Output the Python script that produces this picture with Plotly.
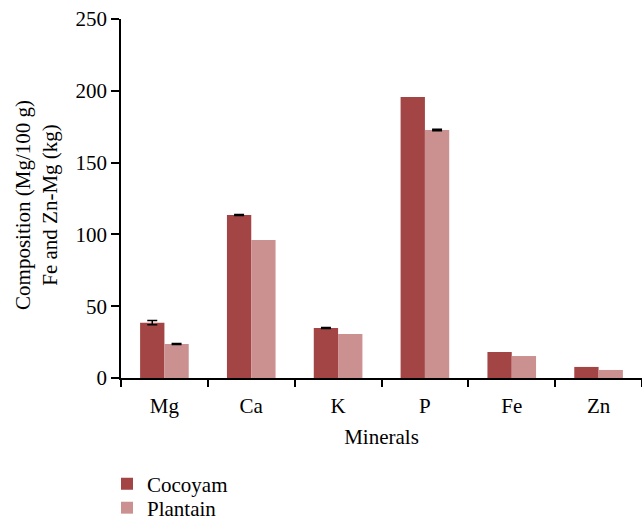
import plotly.graph_objects as go

minerals = ["Mg", "Ca", "K", "P", "Fe", "Zn"]
cocoyam = [38.5, 113.5, 34.8, 195.7, 18.1, 7.7]
cocoyam_err = [1.5, 0.4, 0.4, None, None, None]
plantain = [23.7, 96.1, 30.6, 172.7, 15.3, 5.6]
plantain_err = [0.3, None, None, 0.5, None, None]
y_title = "Composition (Mg/100 g)<br>Fe and Zn-Mg (kg)"
x_title = "Minerals"

font_family = "Liberation Serif"
W, H = 642, 519


def err_array(errs):
    # points without an error bar: "NaN" makes plotly.js skip the bar entirely
    return [e if e is not None else "NaN" for e in errs]


fig = go.Figure()
fig.add_trace(go.Bar(
    name="Cocoyam", x=minerals, y=cocoyam, marker_color="#A34545",
    marker_line_width=0, legend="legend",
    error_y=dict(type="data", array=err_array(cocoyam_err), visible=True, color="black",
                 thickness=1.5, width=5),
))
fig.add_trace(go.Bar(
    name="Plantain", x=minerals, y=plantain, marker_color="#CB9090",
    marker_line_width=0, legend="legend2",
    error_y=dict(type="data", array=err_array(plantain_err), visible=True, color="black",
                 thickness=1.5, width=5),
))

leg_common = dict(xref="container", yref="container", xanchor="left", yanchor="middle",
                  font=dict(size=21), bgcolor="rgba(0,0,0,0)")
fig.update_layout(
    width=W, height=H,
    margin=dict(l=121, r=0, t=19, b=141, autoexpand=False),
    paper_bgcolor="white", plot_bgcolor="white",
    barmode="group", bargap=0.44, bargroupgap=0,
    font=dict(family=font_family, size=21, color="black"),
    showlegend=True,
    legend=dict(x=107 / W, y=(H - 484) / H, **leg_common),
    legend2=dict(x=107 / W, y=(H - 508) / H, **leg_common),
)
fig.add_annotation(
    text=y_title, xref="paper", yref="paper", x=0, y=0.482,
    xanchor="center", yanchor="middle", xshift=-84, textangle=-90,
    showarrow=False, font=dict(size=21), align="center",
)
fig.update_xaxes(
    type="category", range=[-0.5, 5.5],
    showline=True, linecolor="black", linewidth=1.5,
    ticks="outside", tickson="boundaries", ticklen=7, tickwidth=1.5, tickcolor="black",
    ticklabelstandoff=8,
    showgrid=False, zeroline=False,
    title=dict(text=x_title, font=dict(size=21), standoff=12),
)
fig.update_yaxes(
    range=[0, 250], tickvals=[0, 50, 100, 150, 200, 250],
    showline=True, linecolor="black", linewidth=1.5,
    ticks="outside", ticklen=8, tickwidth=1.5, tickcolor="black",
    showgrid=False, zeroline=False,
)

fig.write_html("out.html", config={"displayModeBar": False},
               post_script="document.body.style.margin='0px';")
